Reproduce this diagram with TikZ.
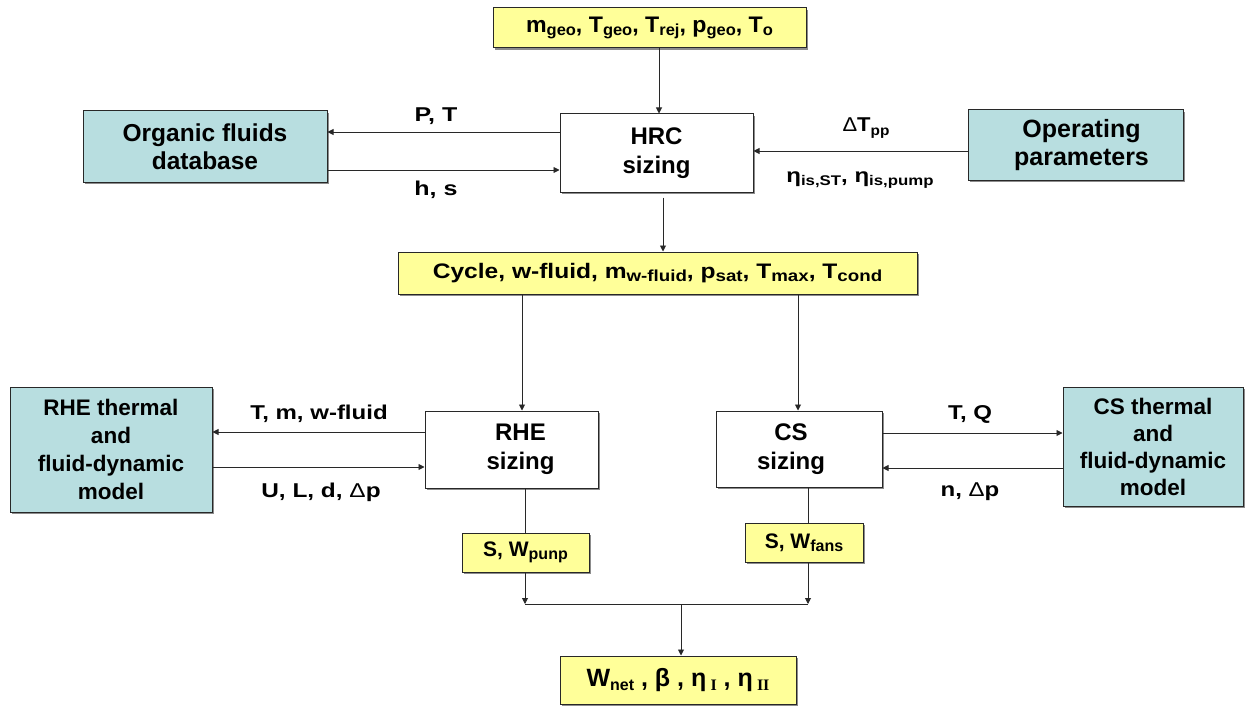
\documentclass[tikz,border=0pt]{standalone}
\usepackage{fontspec}
\setmainfont{Liberation Sans}
\newfontfamily\serifgr{Liberation Serif}
\usetikzlibrary{arrows.meta,shadows}
\newcommand\lo[1]{\raisebox{-0.3ex}{\fontsize{16}{16}\selectfont #1}}
\newcommand\los[1]{\raisebox{-0.3ex}{\fontsize{14}{14}\selectfont #1}}
\newcommand\wide[2]{\scalebox{#1}[1]{#2}}
\definecolor{yel}{RGB}{255,255,153}
\definecolor{teal}{RGB}{184,222,224}
\definecolor{ln}{RGB}{40,40,40}
\tikzset{
  x=1pt,y=-1pt,
  base/.style={draw=ln,line width=1pt,rectangle,inner sep=0pt,align=center,font=\bfseries,
    drop shadow={shadow xshift=2pt,shadow yshift=-2pt,fill=black,opacity=0.45}},
  ybox/.style={base,fill=yel},
  wbox/.style={base,fill=white},
  tbox/.style={base,fill=teal},
  lbl/.style={inner sep=0pt,font=\bfseries\fontsize{20}{22}\selectfont},
  conn/.style={draw=ln,line width=0.9pt},
  arr/.style={conn,-{Triangle[length=6pt,width=6pt]}},
}
\begin{document}
\begin{tikzpicture}
\useasboundingbox (0,0) rectangle (1253,706);
% boxes
\node[ybox,minimum width=313,minimum height=40,font=\bfseries\fontsize{22.5}{26}\selectfont] (top) at (649.5,28)
  {\wide{1.03}{m\lo{geo}, T\lo{geo}, T\lo{rej}, p\lo{geo}, T\lo{o}}};
\node[wbox,minimum width=193,minimum height=78,font=\bfseries\fontsize{24}{29}\selectfont] (hrc) at (656.5,153) {HRC\\sizing};
\node[tbox,minimum width=244,minimum height=71,font=\bfseries\fontsize{24.5}{28}\selectfont] (org) at (205,146.5) {Organic fluids\\database};
\node[tbox,minimum width=215,minimum height=70,font=\bfseries\fontsize{25}{28}\selectfont] (op) at (1075.5,145) {\hspace*{12pt}Operating\\\hspace*{12pt}parameters};
\node[ybox,minimum width=519,minimum height=42,font=\bfseries\fontsize{21}{25}\selectfont] (cyc) at (657.5,273)
  {\wide{1.17}{Cycle, w-fluid, m\lo{w-fluid}, p\lo{sat}, T\lo{max}, T\lo{cond}}};
\node[wbox,minimum width=173,minimum height=77,font=\bfseries\fontsize{24}{29}\selectfont] (rhe) at (511.5,449.5) {\hspace*{18pt}RHE\\\hspace*{18pt}sizing};
\node[wbox,minimum width=166,minimum height=76,font=\bfseries\fontsize{24}{29}\selectfont] (cs) at (799,449) {CS\hspace*{16pt}\\sizing\hspace*{16pt}};
\node[tbox,minimum width=202,minimum height=125,font=\bfseries\fontsize{22.5}{28}\selectfont] (rhem) at (111,449.5) {RHE thermal\\and\\fluid-dynamic\\model};
\node[tbox,minimum width=180,minimum height=119,font=\bfseries\fontsize{22.5}{27}\selectfont] (csm) at (1153,446.5) {CS thermal\\and\\fluid-dynamic\\model};
\node[ybox,minimum width=127,minimum height=39,font=\bfseries\fontsize{21}{25}\selectfont] (swp) at (525.5,552.5) {S, W\lo{punp}};
\node[ybox,minimum width=118,minimum height=39,font=\bfseries\fontsize{21}{25}\selectfont] (swf) at (804,542.5) {S, W\lo{fans}};
\node[ybox,minimum width=236,minimum height=48,font=\bfseries\fontsize{25}{30}\selectfont] (fin) at (678,680)
  {W\lo{net} , β , η\,\raisebox{-0.3ex}{\serifgr\fontsize{16}{16}\selectfont I} , η\,\raisebox{-0.3ex}{\serifgr\fontsize{16}{16}\selectfont II}};
% junction coordinates
\coordinate (jl) at (525,604);
\coordinate (jr) at (808,604);
\coordinate (jm) at (681,604);
% connectors
\draw[arr] (top.south -| 659,0) -- (hrc.north -| 659,0);
\draw[arr] (hrc.west |- 0,132) -- (org.east |- 0,132);
\draw[arr] (org.east |- 0,170) -- (hrc.west |- 0,170);
\draw[arr] (op.west |- 0,151) -- (hrc.east |- 0,151);
\draw[arr] ([yshift=-5pt]hrc.south -| 663,0) -- (cyc.north -| 663,0);
\draw[arr] (cyc.south -| 522,0) -- (rhe.north -| 522,0);
\draw[arr] (cyc.south -| 798,0) -- (cs.north -| 798,0);
\draw[arr] (rhe.west |- 0,432) -- (rhem.east |- 0,432);
\draw[arr] (rhem.east |- 0,467) -- (rhe.west |- 0,467);
\draw[arr] (cs.east |- 0,433) -- (csm.west |- 0,433);
\draw[arr] (csm.west |- 0,468) -- (cs.east |- 0,468);
\draw[conn] (rhe.south -| 525,0) -- (swp.north -| 525,0);
\draw[conn] (cs.south -| 808,0) -- (swf.north -| 808,0);
\draw[arr] (swp.south -| jl) -- (jl);
\draw[arr] (swf.south -| jr) -- (jr);
\draw[conn] (jl) -- (jr);
\draw[arr] (jm) -- (fin.north -| jm);
% labels
\node[lbl] (lpt) at (436,116) {\wide{1.25}{P, T}};
\node[lbl] (lhs) at (436,190) {\wide{1.25}{h, s}};
\node[lbl] (ldt) at (866,128) {\wide{1.1}{{\mdseries Δ}T\los{pp}}};
\node[lbl] (leta) at (860,180) {\wide{1.2}{η\los{is,ST}, η\los{is,pump}}};
\node[lbl] (ltm) at (319,414) {\wide{1.2}{T, m, w-fluid}};
\node[lbl] (lul) at (321,492) {\wide{1.22}{U, L, d, {\mdseries Δ}p}};
\node[lbl] (ltq) at (970,414) {\wide{1.2}{T, Q}};
\node[lbl] (lnp) at (970,492) {\wide{1.2}{n, {\mdseries Δ}p}};
\end{tikzpicture}
\end{document}
